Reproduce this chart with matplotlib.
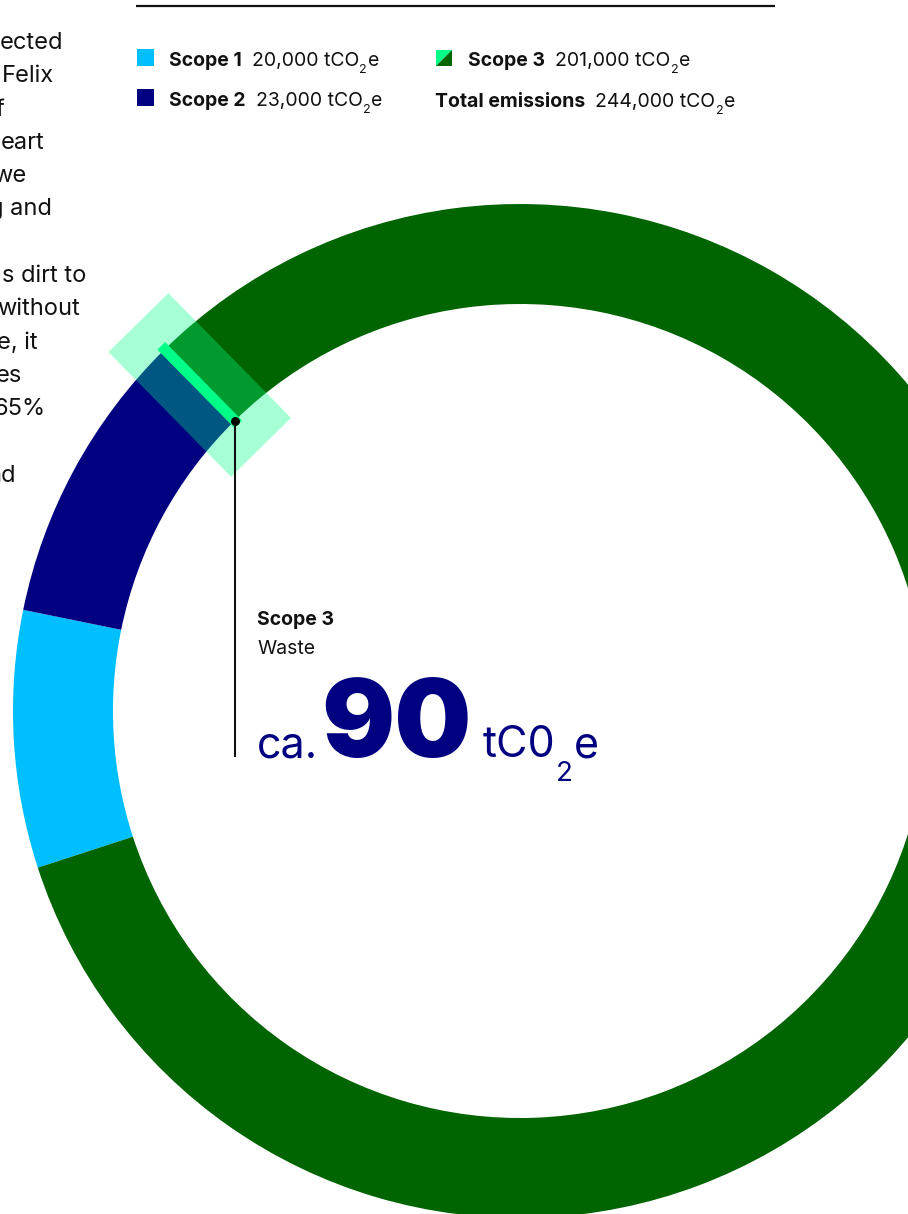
import numpy as np
import matplotlib
matplotlib.use("Agg")
import matplotlib.pyplot as plt
from matplotlib.patches import Rectangle, Wedge, Polygon

plt.rcParams['font.family'] = ['Inter', 'DejaVu Sans']

# Emissions breakdown (tCO2e)
categories = ["Scope 1", "Scope 2", "Scope 3 – Waste", "Scope 3 – Other"]
values = [20000, 23000, 90, 200910]
colors = ["#00BFFF", "#000080", "#00FF87", "#006400"]

legend_labels = ["Scope 1", "Scope 2", "Scope 3", "Total emissions"]
legend_values = ["20,000", "23,000", "201,000", "244,000"]

highlight_title = "Scope 3"
highlight_sub = "Waste"
highlight_value = "90"

body_lines = ["ected", "Felix", "f", "eart", "we", "g and", "",
              "s dirt to", "without", "e, it", "es", "65%", "", "nd"]
body_right = [63, 54, 5, 44, 26, 52, 0, 86, 80, 38, 22, 46, 0, 16]

W, H = 908, 1214
fig = plt.figure(figsize=(W / 100, H / 100), dpi=100)
ax = fig.add_axes([0, 0, 1, 1])

cx, cy, R, ring_w = 520, 711, 507, 100

# y axis runs downward (pixel-like layout), so angles are mirrored
wedges, _ = ax.pie(values, colors=colors, radius=R, center=(cx, cy),
                   startangle=-198, counterclock=True,
                   wedgeprops=dict(width=ring_w, linewidth=0))
ax.set_xlim(0, W)
ax.set_ylim(H, 0)
ax.axis('off')

# make the tiny waste slice visible, kept inside the ring
ring = Wedge((cx, cy), R, 0, 360, width=ring_w, transform=ax.transData)
waste = wedges[2]
waste.set_edgecolor(colors[2])
waste.set_linewidth(7)
waste.set_joinstyle('miter')
waste.set_zorder(3)
waste.set_clip_path(ring)

# translucent highlight band across the waste slice
theta = np.deg2rad((waste.theta1 + waste.theta2) / 2)
r_mid = R - ring_w / 2
bx, by = cx + r_mid * np.cos(theta), cy + r_mid * np.sin(theta)
bw, bh = 175, 84
ax.add_patch(Rectangle((bx - bw / 2, by - bh / 2), bw, bh,
                       angle=np.rad2deg(theta), rotation_point='center',
                       facecolor="#00FF87", alpha=0.35, linewidth=0, zorder=4))

# leader from the slice to the label
r_in = R - ring_w
dx, dy = cx + r_in * np.cos(theta), cy + r_in * np.sin(theta)
ax.plot([dx, dx], [dy, 757], color="#111111", lw=1.5, zorder=5,
        solid_capstyle='butt')
ax.plot([dx], [dy], 'o', color="#000000", markersize=5.4, zorder=6)

renderer = fig.canvas.get_renderer()


def text_runs(x, y, parts):
    """Draw consecutive text pieces on one baseline; each part is
    (text, size, weight, color, dy, gap)."""
    for s, size, weight, color, ddy, gap in parts:
        t = ax.text(x, y + ddy, s, fontsize=size, fontweight=weight,
                    color=color, ha='left', va='baseline', zorder=7)
        bb = t.get_window_extent(renderer)
        x += bb.width + gap
    return x


ink = "#111111"
fs = 14


def unit_runs(x, y, number):
    return text_runs(x, y, [(number + " tCO", fs, 'normal', ink, 0, 0.5),
                            ("2", 9, 'normal', ink, 7, 0.5),
                            ("e", fs, 'normal', ink, 0, 0)])


# top rule
ax.plot([136, 775], [6, 6], color="#111111", lw=1.6, solid_capstyle='butt')

# legend
sq = 17
ax.add_patch(Rectangle((137, 49), sq, sq, facecolor=colors[0], lw=0))
ax.add_patch(Rectangle((137, 89), sq, sq, facecolor=colors[1], lw=0))
ax.add_patch(Polygon([(436, 50), (452, 50), (436, 66)], closed=True,
                     facecolor=colors[2], lw=0))
ax.add_patch(Polygon([(452, 50), (452, 66), (436, 66)], closed=True,
                     facecolor=colors[3], lw=0))

legend_pos = [(169, 66), (169, 106), (468, 66), (435, 107)]
for (lx, ly), lab, val in zip(legend_pos, legend_labels, legend_values):
    nx = text_runs(lx, ly, [(lab, fs, 'bold', ink, 0, 10)])
    unit_runs(nx, ly, val)

# highlight label
ax.text(257, 625, highlight_title, fontsize=fs, fontweight='bold', color=ink,
        ha='left', va='baseline')
ax.text(257, 654, highlight_sub, fontsize=fs, color=ink,
        ha='left', va='baseline')
navy = "#000080"
text_runs(257, 757, [("ca.", 31, 'normal', navy, 0, 3),
                     (highlight_value, 78, 900, navy, 0, 11),
                     ("tC0", 31, 'normal', navy, 0, 1),
                     ("2", 20, 'normal', navy, 24, 1),
                     ("e", 31, 'normal', navy, 0, 0)])

# body copy running off the left edge
for i, (line, xr) in enumerate(zip(body_lines, body_right)):
    if line:
        ax.text(xr, 49 + 33.3 * i, line, fontsize=17, color=ink,
                ha='right', va='baseline')

fig.savefig("out.png", dpi=100)
